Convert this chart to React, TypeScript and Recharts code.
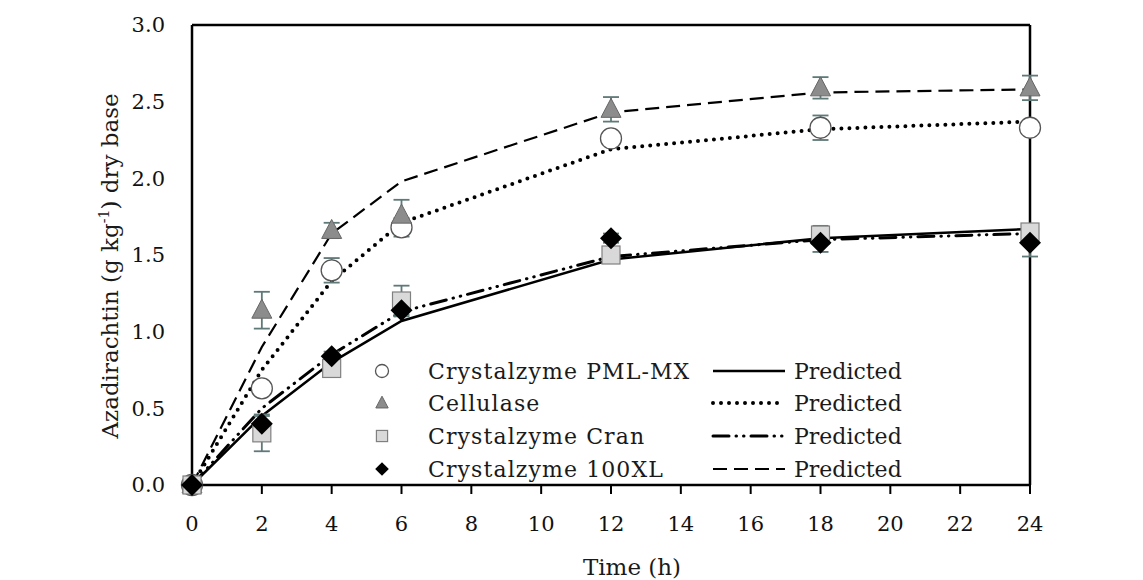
import {
  ComposedChart,
  ErrorBar,
  Line,
  ReferenceLine,
  Scatter,
  XAxis,
  YAxis,
} from 'recharts';

// sampling times (h)
const times = [0, 2, 4, 6, 12, 18, 24];

// observed azadirachtin, g/kg dry base, with error bar half-lengths
const pmlObserved = [0, 0.63, 1.4, 1.68, 2.26, 2.33, 2.33];
const pmlError = [0, 0.03, 0.08, 0.06, 0.02, 0.08, 0.02];
const cellulaseObserved = [0, 1.14, 1.66, 1.76, 2.45, 2.59, 2.59];
const cellulaseError = [0, 0.12, 0.05, 0.1, 0.08, 0.07, 0.08];
const cranObserved = [0, 0.34, 0.76, 1.2, 1.5, 1.63, 1.65];
const cranError = [0, 0.12, 0.03, 0.1, 0.03, 0.06, 0.03];
const xlObserved = [0, 0.4, 0.84, 1.14, 1.61, 1.58, 1.58];
const xlError = [0, 0.05, 0.03, 0.03, 0.03, 0.06, 0.09];

// model curves ("Predicted")
const solidPredicted = [0, 0.45, 0.8, 1.07, 1.47, 1.61, 1.67];
const dottedPredicted = [0, 0.75, 1.33, 1.71, 2.19, 2.32, 2.37];
const dashDotPredicted = [0, 0.5, 0.85, 1.13, 1.49, 1.6, 1.64];
const dashedPredicted = [0, 0.9, 1.64, 1.98, 2.43, 2.56, 2.58];

const xTicks = [0, 2, 4, 6, 8, 10, 12, 14, 16, 18, 20, 22, 24];
const yTicks = [0, 0.5, 1, 1.5, 2, 2.5, 3];

const legendNames = [
  'Crystalzyme PML-MX',
  'Cellulase',
  'Crystalzyme Cran',
  'Crystalzyme 100XL',
];

const rows = times.map((t, i) => ({
  t,
  pml: pmlObserved[i],
  pmlErr: pmlError[i],
  cel: cellulaseObserved[i],
  celErr: cellulaseError[i],
  cran: cranObserved[i],
  cranErr: cranError[i],
  xl: xlObserved[i],
  xlErr: xlError[i],
  pSolid: solidPredicted[i],
  pDotted: dottedPredicted[i],
  pDashDot: dashDotPredicted[i],
  pDashed: dashedPredicted[i],
}));

const FONT = '"DejaVu Serif", serif';
const ERR = '#5f7878';

const LINE_STYLES = [
  { strokeWidth: 2.5, strokeDasharray: undefined, strokeLinecap: 'butt' },
  { strokeWidth: 4, strokeDasharray: '0 8', strokeLinecap: 'round' },
  { strokeWidth: 3, strokeDasharray: '16 7 0.5 7 0.5 7', strokeLinecap: 'round' },
  { strokeWidth: 2.2, strokeDasharray: '14 7', strokeLinecap: 'butt' },
] as const;

function Marker({ kind, cx, cy, s = 1 }: { kind: number; cx: number; cy: number; s?: number }) {
  if (kind === 0)
    return <circle cx={cx} cy={cy} r={10.5 * s} fill="#fff" stroke="#555" strokeWidth={1.3} />;
  if (kind === 1)
    return (
      <polygon
        points={`${cx},${cy - 11 * s} ${cx - 10 * s},${cy + 8 * s} ${cx + 10 * s},${cy + 8 * s}`}
        fill="#8c8c8c"
        stroke="#666"
        strokeWidth={1}
      />
    );
  if (kind === 2)
    return (
      <rect
        x={cx - 9 * s}
        y={cy - 9 * s}
        width={18 * s}
        height={18 * s}
        fill="#d9d9d9"
        stroke="#808080"
        strokeWidth={1.2}
      />
    );
  return (
    <polygon
      points={`${cx},${cy - 11 * s} ${cx + 11 * s},${cy} ${cx},${cy + 11 * s} ${cx - 11 * s},${cy}`}
      fill="#000"
    />
  );
}

const shape = (kind: number) => (p: any) => <Marker kind={kind} cx={p.cx} cy={p.cy} />;

function LegendBlock() {
  const rowY = [371, 403, 436, 469];
  return (
    <g fontFamily={FONT} fontSize={22} fill="#1a1a1a">
      {legendNames.map((name, i) => (
        <g key={name}>
          <Marker kind={i} cx={382} cy={rowY[i]} s={0.62} />
          <text x={428} y={rowY[i] + 8} letterSpacing={1.1}>
            {name}
          </text>
          <line
            x1={713}
            x2={785}
            y1={rowY[i]}
            y2={rowY[i]}
            stroke="#000"
            strokeWidth={LINE_STYLES[i].strokeWidth}
            strokeDasharray={LINE_STYLES[i].strokeDasharray}
            strokeLinecap={LINE_STYLES[i].strokeLinecap}
          />
          <text x={794} y={rowY[i] + 8}>
            Predicted
          </text>
        </g>
      ))}
    </g>
  );
}

function YTitle() {
  return (
    <text
      transform="translate(118,266) rotate(-90)"
      textAnchor="middle"
      fontFamily={FONT}
      fontSize={23}
      fill="#1a1a1a"
    >
      Azadirachtin (g kg
      <tspan fontSize={14} dy={-9}>
        -1
      </tspan>
      <tspan dy={9}>) dry base</tspan>
    </text>
  );
}

const tickStyle = { fontFamily: FONT, fontSize: 21, fill: '#111' };

export default function App() {
  const predictedKeys = ['pSolid', 'pDotted', 'pDashDot', 'pDashed'];
  return (
    <div style={{ width: 1143, height: 580 }}>
      <style>{'body{margin:0;background:#fff}'}</style>
      <ComposedChart
        width={1143}
        height={580}
        data={rows}
        margin={{ top: 25, right: 113, bottom: 0, left: 0 }}
      >
        <XAxis
          dataKey="t"
          type="number"
          domain={[0, 24]}
          ticks={xTicks}
          interval={0}
          height={95}
          tick={tickStyle}
          tickSize={9}
          tickMargin={22}
          axisLine={{ stroke: '#000', strokeWidth: 2.5 }}
          tickLine={{ stroke: '#000', strokeWidth: 2 }}
          label={{
            value: 'Time (h)',
            position: 'insideBottom',
            offset: 5,
            dx: 21,
            style: { fontFamily: FONT, fontSize: 23, fill: '#1a1a1a' },
          }}
        />
        <YAxis
          type="number"
          domain={[0, 3]}
          ticks={yTicks}
          interval={0}
          width={192}
          tick={tickStyle}
          tickFormatter={(v: number) => v.toFixed(1)}
          tickLine={false}
          tickSize={0}
          tickMargin={27}
          axisLine={{ stroke: '#000', strokeWidth: 2.5 }}
        />
        <ReferenceLine y={3} stroke="#000" strokeWidth={2.5} />
        <ReferenceLine x={24} stroke="#000" strokeWidth={2.5} />
        {predictedKeys.map((k, i) => (
          <Line
            key={k}
            dataKey={k}
            type="linear"
            stroke="#000"
            strokeWidth={LINE_STYLES[i].strokeWidth}
            strokeDasharray={LINE_STYLES[i].strokeDasharray}
            strokeLinecap={LINE_STYLES[i].strokeLinecap}
            dot={false}
            activeDot={false}
            isAnimationActive={false}
          />
        ))}
        <Scatter dataKey="pml" shape={shape(0)} isAnimationActive={false}>
          <ErrorBar dataKey="pmlErr" direction="y" stroke={ERR} strokeWidth={1.8} width={8} />
        </Scatter>
        <Scatter dataKey="cel" shape={shape(1)} isAnimationActive={false}>
          <ErrorBar dataKey="celErr" direction="y" stroke={ERR} strokeWidth={1.8} width={8} />
        </Scatter>
        <Scatter dataKey="cran" shape={shape(2)} isAnimationActive={false}>
          <ErrorBar dataKey="cranErr" direction="y" stroke={ERR} strokeWidth={1.8} width={8} />
        </Scatter>
        <Scatter dataKey="xl" shape={shape(3)} isAnimationActive={false}>
          <ErrorBar dataKey="xlErr" direction="y" stroke={ERR} strokeWidth={1.8} width={8} />
        </Scatter>
        <YTitle />
        <LegendBlock />
      </ComposedChart>
    </div>
  );
}
